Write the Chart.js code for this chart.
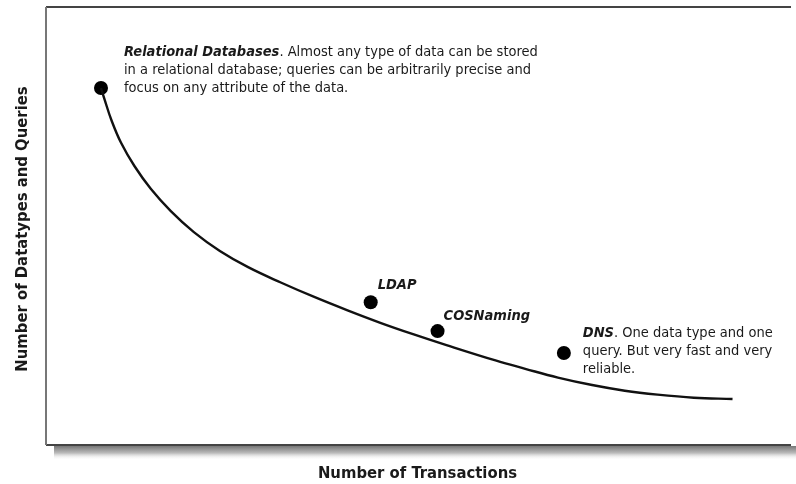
<!DOCTYPE html>
<html>
<head>
<meta charset="utf-8">
<script src="https://cdn.jsdelivr.net/npm/chart.js@4/dist/chart.umd.min.js"></script>
<style>
  html, body { margin: 0; padding: 0; background: #fff; }
  #wrap { width: 796px; height: 484px; }
</style>
</head>
<body>
<div id="wrap"><canvas id="chart" width="796" height="484"></canvas></div>
<script>
// trade-off curve (arbitrary units 0-100)
const curveX = [7.4, 7.9, 8.8, 10.1, 11.9, 14.1, 16.8, 19.9, 23.4, 27.2, 31.6, 36.1,
                40.5, 45.0, 49.4, 53.9, 60.5, 64.5, 68.9, 73.5, 77.9, 82.3, 87.2, 92.4];
const curveY = [81.5, 78.8, 74.2, 69.0, 63.7, 58.5, 53.4, 48.6, 44.3, 40.6, 37.1, 33.8,
                30.8, 27.9, 25.3, 22.8, 19.3, 17.4, 15.4, 13.7, 12.4, 11.5, 10.8, 10.5];

// naming systems
const systemNames = ['Relational Databases', 'LDAP', 'COSNaming', 'DNS'];
const systemX = [7.4, 43.7, 52.7, 69.7];
const systemY = [81.5, 32.6, 26.0, 21.0];
const systemNotes = [
    ['. Almost any type of data can be stored',
     'in a relational database; queries can be arbitrarily precise and',
     'focus on any attribute of the data.'],
    [],
    [],
    ['. One data type and one',
     'query. But very fast and very',
     'reliable.']
];

const xTitle = 'Number of Transactions';
const yTitle = 'Number of Datatypes and Queries';

// label placement relative to each dot (pixels)
const labelOffsets = [[23, -36], [7, -17], [6, -15], [19, -20]];
const LINE_H = 18;
const FONT = '"Liberation Sans Narrow", "DejaVu Sans Condensed", sans-serif';
const INK = '#1a1a1a';

const framePlugin = {
    id: 'frame',
    beforeDraw(chart) {
        const { ctx, chartArea: a } = chart;
        ctx.save();
        // shadow under the box
        const g = ctx.createLinearGradient(0, a.bottom + 1, 0, a.bottom + 15);
        g.addColorStop(0, '#777');
        g.addColorStop(0.5, '#bbb');
        g.addColorStop(1, 'rgba(255,255,255,0)');
        ctx.fillStyle = g;
        ctx.fillRect(a.left + 8, a.bottom + 1, a.right - a.left, 14);
        // box
        ctx.lineWidth = 2;
        ctx.strokeStyle = '#444';
        ctx.beginPath();
        ctx.moveTo(a.right + 2, a.top);
        ctx.lineTo(a.left, a.top);
        ctx.moveTo(a.left, a.bottom);
        ctx.lineTo(a.right + 2, a.bottom);
        ctx.stroke();
        ctx.strokeStyle = '#777';
        ctx.beginPath();
        ctx.moveTo(a.left, a.top);
        ctx.lineTo(a.left, a.bottom);
        ctx.stroke();
        ctx.restore();
    },
    afterDatasetsDraw(chart) {
        const { ctx, scales: { x, y } } = chart;
        ctx.save();
        ctx.fillStyle = INK;
        ctx.textBaseline = 'middle';
        ctx.textAlign = 'left';
        systemNames.forEach((name, i) => {
            const px = x.getPixelForValue(systemX[i]) + labelOffsets[i][0];
            const py = y.getPixelForValue(systemY[i]) + labelOffsets[i][1];
            const notes = systemNotes[i];
            ctx.font = 'italic bold 14.5px ' + FONT;
            ctx.fillText(name, px, py);
            const w = ctx.measureText(name).width;
            ctx.font = '14.5px ' + FONT;
            notes.forEach((line, k) => {
                if (k === 0) ctx.fillText(line, px + w, py);
                else ctx.fillText(line, px, py + k * LINE_H);
            });
        });
        ctx.restore();
    },
    afterDraw(chart) {
        const { ctx, chartArea: a } = chart;
        ctx.save();
        ctx.fillStyle = INK;
        ctx.font = 'bold 16.5px ' + FONT;
        ctx.textAlign = 'center';
        ctx.textBaseline = 'middle';
        ctx.fillText(xTitle, (a.left + a.right) / 2, 474);
        ctx.translate(23, (a.top + a.bottom) / 2 + 3);
        ctx.rotate(-Math.PI / 2);
        ctx.fillText(yTitle, 0, 0);
        ctx.restore();
    }
};

new Chart(document.getElementById('chart'), {
    type: 'scatter',
    data: {
        datasets: [
            {
                label: 'trade-off',
                data: curveX.map((v, i) => ({ x: v, y: curveY[i] })),
                showLine: true,
                borderColor: '#111',
                borderWidth: 2.4,
                pointRadius: 0,
                tension: 0.4,
                fill: false
            },
            {
                label: 'systems',
                data: systemX.map((v, i) => ({ x: v, y: systemY[i] })),
                showLine: false,
                pointRadius: 7,
                pointBackgroundColor: '#000',
                pointBorderColor: '#000',
                pointBorderWidth: 0
            }
        ]
    },
    options: {
        responsive: false,
        animation: false,
        devicePixelRatio: 1,
        layout: { padding: { left: 46, top: 7, right: 0, bottom: 39 } },
        plugins: { legend: { display: false }, tooltip: { enabled: false } },
        scales: {
            x: { type: 'linear', min: 0, max: 100, display: false },
            y: { type: 'linear', min: 0, max: 100, display: false }
        }
    },
    plugins: [framePlugin]
});
</script>
</body>
</html>
